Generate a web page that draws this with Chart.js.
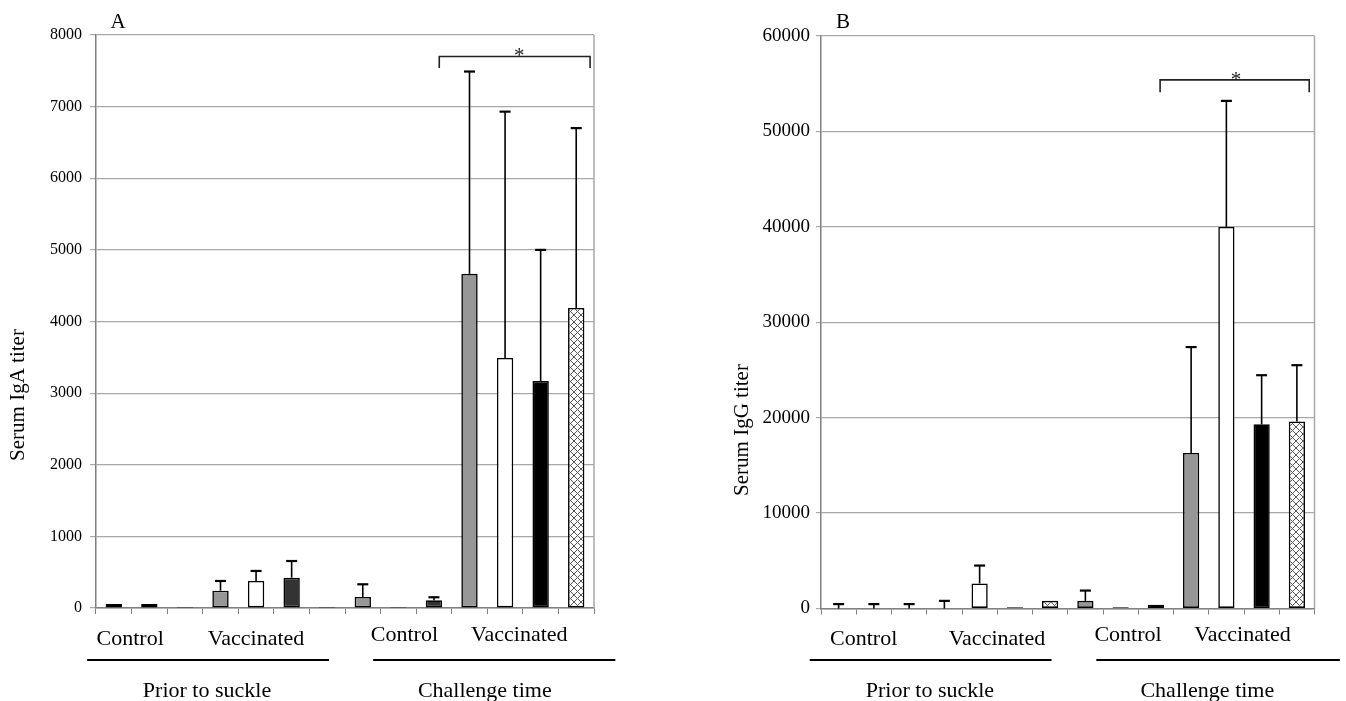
<!DOCTYPE html>
<html>
<head>
<meta charset="utf-8">
<script src="https://cdn.jsdelivr.net/npm/chart.js@4.4.1/dist/chart.umd.min.js"></script>
<style>
html,body{margin:0;padding:0;background:#fff;}
#wrap{position:relative;width:1346px;height:701px;overflow:hidden;}
canvas{position:absolute;top:0;}
</style>
</head>
<body>
<div id="wrap">
<canvas id="chartA" width="673" height="701" style="left:0"></canvas>
<canvas id="chartB" width="673" height="701" style="left:673px"></canvas>
</div>
<script>
// ---------- data ----------
const slotNames = [
  'Prior control 1','Prior control 2','Prior control 3',
  'Prior vaccinated 1','Prior vaccinated 2','Prior vaccinated 3','Prior vaccinated 4',
  'Challenge control 1','Challenge control 2','Challenge control 3',
  'Challenge vaccinated 1','Challenge vaccinated 2','Challenge vaccinated 3','Challenge vaccinated 4'
];
const groupLabels = ['Control','Vaccinated','Control','Vaccinated'];
const periodLabels = ['Prior to suckle','Challenge time'];

const igaFill = ['gray','white','dark','gray','white','dark','hatch','gray','white','dark','gray','white','black','hatch'];
const igaValues = [55, 55, 15, 242, 377, 423, 15, 154, 15, 107, 4665, 3492, 3170, 4190];
const igaUpper  = [null, null, null, 377, 517, 656, null, 331, null, 150, 7490, 6930, 5000, 6700];
const igaTicks = [0,1000,2000,3000,4000,5000,6000,7000,8000];

const iggFill = ['gray','white','black','gray','white','black','hatch','gray','white','black','gray','white','black','hatch'];
const iggValues = [0, 0, 0, 0, 2620, 120, 800, 800, 120, 380, 16300, 40000, 19300, 19600];
const iggUpper  = [460, 460, 460, 800, 4500, null, null, 1880, null, null, 27400, 53200, 24450, 25500];
const iggTicks = [0,10000,20000,30000,40000,50000,60000];

// ---------- styles ----------
const SERIF = "'Liberation Serif','Times New Roman',Times,serif";
const GRID = '#a8a8a8';
const AXIS = '#808080';

function hatchPattern(){
  const c = document.createElement('canvas');
  c.width = 7; c.height = 7;
  const g = c.getContext('2d');
  g.fillStyle = '#fff'; g.fillRect(0,0,7,7);
  g.strokeStyle = '#555'; g.lineWidth = 1;
  g.beginPath();
  g.moveTo(0,0); g.lineTo(7,7);
  g.moveTo(7,0); g.lineTo(0,7);
  g.stroke();
  return g.createPattern(c,'repeat');
}
const HATCH = hatchPattern();
function colorOf(k){
  return {gray:'#979797', white:'#ffffff', dark:'#333333', black:'#000000', hatch:HATCH}[k];
}

const extrasPlugin = {
  id:'extras',
  afterDraw(chart){
    const o = chart.options.plugins.extras;
    const ctx = chart.ctx;
    const xs = chart.scales.x, ys = chart.scales.y;
    const ca = chart.chartArea;
    const slot = xs.getPixelForValue(1) - xs.getPixelForValue(0);
    const px = v => xs.getPixelForValue(0) + v*slot;
    ctx.save();
    // right border of plot box
    ctx.strokeStyle = GRID; ctx.lineWidth = 1.5;
    ctx.beginPath(); ctx.moveTo(ca.right, ca.top); ctx.lineTo(ca.right, ca.bottom); ctx.stroke();
    // error bars
    const meta = chart.getDatasetMeta(0);
    ctx.strokeStyle = '#000';
    o.upper.forEach((u,i)=>{
      if(u === null) return;
      const x = meta.data[i].x;
      const y0 = ys.getPixelForValue(o.values[i]);
      const y1 = ys.getPixelForValue(u);
      ctx.lineWidth = 1.6;
      ctx.beginPath(); ctx.moveTo(x,y0); ctx.lineTo(x,y1); ctx.stroke();
      ctx.lineWidth = 2.2;
      ctx.beginPath(); ctx.moveTo(x-5.5,y1); ctx.lineTo(x+5.5,y1); ctx.stroke();
    });
    // significance bracket
    const b = o.bracket;
    const bx0 = px(b.from), bx1 = px(b.to);
    const by = ys.getPixelForValue(b.top), be = ys.getPixelForValue(b.end);
    ctx.strokeStyle = '#222'; ctx.lineWidth = 1.6;
    ctx.beginPath(); ctx.moveTo(bx0,be); ctx.lineTo(bx0,by); ctx.lineTo(bx1,by); ctx.lineTo(bx1,be); ctx.stroke();
    ctx.fillStyle = '#222';
    ctx.font = '21px ' + SERIF;
    ctx.textAlign = 'center'; ctx.textBaseline = 'alphabetic';
    ctx.fillText('*', px(b.star), by + 6);
    // group labels
    ctx.fillStyle = '#000';
    ctx.font = '22px ' + SERIF;
    groupLabels.forEach((t,i)=>{
      ctx.fillText(t, px(o.groupPos[i]), o.groupY[i]);
    });
    // lines under groups
    ctx.strokeStyle = '#000'; ctx.lineWidth = 2;
    o.linePos.forEach(([a,c])=>{
      ctx.beginPath(); ctx.moveTo(px(a), o.lineY); ctx.lineTo(px(c), o.lineY); ctx.stroke();
    });
    periodLabels.forEach((t,i)=>{
      ctx.fillText(t, px(o.periodPos[i]), o.periodY);
    });
    // panel letter
    ctx.font = '21px ' + SERIF;
    ctx.fillText(o.letter, ca.left + o.letterDx, 28);
    // y title
    ctx.translate(o.titleX, o.titleY);
    ctx.rotate(-Math.PI/2);
    ctx.textBaseline = 'middle';
    ctx.font = '21px ' + SERIF;
    ctx.fillText(o.yTitle, 0, 0);
    ctx.restore();
  }
};

function makeChart(id, cfg){
  return new Chart(document.getElementById(id), {
    type:'bar',
    data:{
      labels: slotNames,
      datasets:[{
        data: cfg.values,
        backgroundColor: cfg.fill.map(colorOf),
        borderColor:'#000',
        borderWidth:1.6,
        borderSkipped:false,
        barPercentage:0.46,
        categoryPercentage:1
      }]
    },
    options:{
      responsive:false,
      animation:false,
      layout:{padding:{left:0, right:cfg.padRight, top:cfg.padTop, bottom:0}},
      plugins:{
        legend:{display:false},
        tooltip:{enabled:false},
        extras:cfg.extras
      },
      scales:{
        x:{
          offset:true,
          grid:{display:true, drawOnChartArea:false, drawTicks:true, tickLength:6, color:AXIS, offset:true},
          border:{display:true, color:AXIS, width:1.5},
          ticks:{callback:()=> '', font:{size:4}},
          afterFit:s=>{ s.height = cfg.xHeight; }
        },
        y:{
          min:0, max:cfg.ticks[cfg.ticks.length-1],
          afterBuildTicks:s=>{ s.ticks = cfg.ticks.map(v=>({value:v})); },
          ticks:{font:{family:SERIF, size:cfg.tickSize}, color:'#000', padding:cfg.tickPad,
                 callback:v=>String(v)},
          grid:{color:GRID, lineWidth:1.2, tickLength:cfg.tickLen, drawTicks:true},
          border:{display:true, color:AXIS, width:1.5},
          afterFit:s=>{ s.width = cfg.yWidth; }
        }
      }
    },
    plugins:[extrasPlugin]
  });
}

makeChart('chartA', {
  values: igaValues, fill: igaFill, ticks: igaTicks,
  padRight: 79, padTop: 35, xHeight: 93, yWidth: 96,
  tickSize: 16, tickPad: 8, tickLen: 6,
  extras:{
    values: igaValues, upper: igaUpper,
    bracket:{from:9.15, to:13.39, top:7700, end:7540, star:11.4},
    groupPos:[0.46, 4.0, 8.17, 11.4], groupY:[645, 645, 641, 641],
    linePos:[[-0.75, 6.05],[7.29, 14.1]], lineY:660,
    periodPos:[2.62, 10.43], periodY:697,
    letter:'A', letterDx:22,
    yTitle:'Serum IgA titer', titleX:18, titleY:395
  }
});

makeChart('chartB', {
  values: iggValues, fill: iggFill, ticks: iggTicks,
  padRight: 31.5, padTop: 36, xHeight: 92.5, yWidth: 148,
  tickSize: 19, tickPad: 6, tickLen: 5,
  extras:{
    values: iggValues, upper: iggUpper,
    bracket:{from:9.12, to:13.35, top:55400, end:54100, star:11.27},
    groupPos:[0.71, 4.49, 8.21, 11.46], groupY:[645, 645, 641, 641],
    linePos:[[-0.82, 6.04],[7.31, 14.22]], lineY:660,
    periodPos:[2.59, 10.46], periodY:697,
    letter:'B', letterDx:22,
    yTitle:'Serum IgG titer', titleX:69, titleY:430
  }
});
</script>
</body>
</html>
